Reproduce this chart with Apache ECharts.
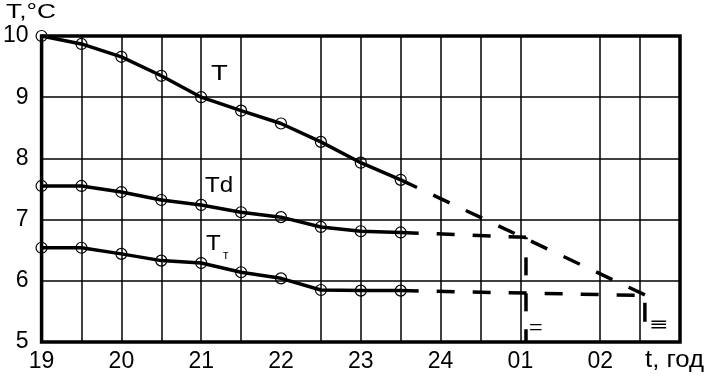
<!DOCTYPE html>
<html><head><meta charset="utf-8">
<script src="https://cdn.jsdelivr.net/npm/echarts@6/dist/echarts.min.js"></script>
<style>html,body{margin:0;padding:0;background:#fff}#c{width:706px;height:382px}</style>
</head><body><div id="c"></div>
<script>
// ---- data ----
const hours = [19, 19.5, 20, 20.5, 21, 21.5, 22, 22.5, 23, 23.5];
const T  = [10.0, 9.87, 9.66, 9.35, 9.0, 8.78, 8.57, 8.27, 7.93, 7.65];
const Td = [7.55, 7.55, 7.45, 7.32, 7.24, 7.12, 7.04, 6.88, 6.81, 6.79];
const Tt = [6.54, 6.54, 6.44, 6.33, 6.29, 6.14, 6.04, 5.85, 5.84, 5.84];
const xTickLabels = {19:'19', 20:'20', 21:'21', 22:'22', 23:'23', 24:'24', 25:'01', 26:'02'};
const gridX = [19.5, 20, 20.5, 21, 21.5, 22.5, 23, 23.5, 24, 24.5, 25, 26, 26.5];
// extrapolations (dashed)
const T_ext  = [[23.5, 7.65], [26.56, 5.77]];
const Td_ext = [[23.5, 6.79], [25.07, 6.71]];
const Tt_ext = [[23.5, 5.84], [26.56, 5.76]];
const drop01 = [[25.07, 6.71], [25.07, 5.0]];
const drop02 = [[26.56, 5.64], [26.56, 5.33]];

const FONT = 'Liberation Sans';
const chart = echarts.init(document.getElementById('c'), null, {renderer: 'canvas'});
const mk = arr => hours.map((h, i) => [h, arr[i]]);
const solid = (name, arr) => ({
  name, type: 'line', data: mk(arr), z: 5,
  symbol: 'circle', symbolSize: 11,
  itemStyle: {color: 'rgba(0,0,0,0)', borderColor: '#000', borderWidth: 1.2},
  lineStyle: {color: '#000', width: 3.5},
  clip: false
});
const dashed = (data, offset, width) => ({
  type: 'line', data, z: 4, symbol: 'none',
  lineStyle: {color: '#000', width: width || 3.5, type: [18, 18], dashOffset: offset || 0}
});

chart.setOption({
  animation: false,
  backgroundColor: '#fff',
  grid: {left: 38, right: 26, top: 36, bottom: 40, show: true, borderColor: '#000', borderWidth: 3.5, backgroundColor: 'rgba(0,0,0,0)', z: 10},
  xAxis: {
    type: 'value', min: 19, max: 27, interval: 1,
    axisLine: {show: false}, axisTick: {show: false}, splitLine: {show: false},
    axisLabel: {color: '#000', fontSize: 23, fontFamily: FONT, margin: 8,
      formatter: v => xTickLabels[v] || ''}
  },
  yAxis: {
    type: 'value', min: 5, max: 10, interval: 1,
    axisLine: {show: false}, axisTick: {show: false},
    splitLine: {show: true, lineStyle: {color: '#000', width: 1.5}},
    axisLabel: {color: '#000', fontSize: 23, fontFamily: FONT, margin: 13}
  },
  series: [
    {type: 'line', data: [], z: 1, silent: true,
     markLine: {silent: true, symbol: ['none', 'none'], label: {show: false}, animation: false,
       lineStyle: {type: 'solid', color: '#000', width: 1.5},
       data: gridX.map(v => ({xAxis: v}))}},
    solid('T', T), solid('Td', Td), solid('Tt', Tt),
    dashed(T_ext), dashed(Td_ext), dashed(Tt_ext),
    dashed(drop01, 16),
    {type: 'line', data: drop02, z: 4, symbol: 'none', lineStyle: {color: '#000', width: 3.5}}
  ],
  graphic: [
    {type: 'text', left: 6, top: 2, scaleX: 1.25, style: {text: 'T,°C', font: '21px "Liberation Sans"', fill: '#000'}},
    {type: 'text', left: 645, top: 349, scaleX: 1.12, style: {text: 't, год', font: '23px "Liberation Sans"', fill: '#000'}},
    {type: 'text', left: 211, top: 63, scaleX: 1.25, style: {text: 'T', font: '22px "Liberation Sans"', fill: '#000'}},
    {type: 'text', left: 205, top: 175, scaleX: 1.1, style: {text: 'Td', font: '22px "Liberation Sans"', fill: '#000'}},
    {type: 'text', left: 206, top: 233, scaleX: 1.1, style: {text: 'T', font: '22px "Liberation Sans"', fill: '#000'}},
    {type: 'text', left: 223, top: 250, style: {text: 'т', font: '12px "Liberation Sans"', fill: '#000'}},
    {type: 'text', left: 529, top: 319, scaleX: 1.3, style: {text: '=', font: '18px "Liberation Sans"', fill: '#000'}},
    {type: 'text', left: 649, top: 316, scaleX: 1.3, style: {text: '≡', font: '18px "DejaVu Sans"', fill: '#000'}}
  ]
});
</script></body></html>
